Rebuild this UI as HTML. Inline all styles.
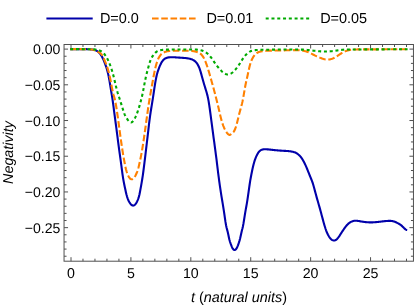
<!DOCTYPE html>
<html><head><meta charset="utf-8"><title>Negativity</title>
<style>
html,body{margin:0;padding:0;background:#fff;}
body{width:415px;height:307px;overflow:hidden;font-family:"Liberation Sans",sans-serif;}
svg{display:block;will-change:transform;}
text{font-family:"Liberation Sans",sans-serif;font-size:14px;fill:#000;text-rendering:geometricPrecision;}
</style></head><body>
<svg width="415" height="307" viewBox="0 0 415 307">
<rect width="415" height="307" fill="#fff"/>
<!-- legend -->
<g fill="none" stroke-width="2">
<path d="M46.4,18.5 H92.7" stroke="#0000aa"/>
<path d="M152,18.5 H195.7" stroke="#ff8000" stroke-dasharray="6.6 2.65"/>
<path d="M265.7,18.5 H309.5" stroke="#00aa00" stroke-dasharray="3 2.78"/>
</g>
<text x="99.9" y="23.0" style="font-size:14.45px">D=0.0</text>
<text x="206.4" y="23.0" style="font-size:14.45px">D=0.01</text>
<text x="320.2" y="23.0" style="font-size:14.45px">D=0.05</text>
<!-- curves -->
<g fill="none" stroke-width="2.1" stroke-linejoin="round">
<path d="M70.20,49.10 L70.76,49.10 L71.33,49.10 L71.89,49.10 L72.45,49.10 L73.01,49.10 L73.58,49.10 L74.14,49.10 L74.70,49.10 L75.26,49.10 L75.83,49.10 L76.39,49.10 L76.95,49.10 L77.51,49.10 L78.08,49.11 L78.64,49.11 L79.20,49.11 L79.76,49.11 L80.33,49.11 L80.89,49.12 L81.45,49.12 L82.01,49.12 L82.58,49.13 L83.14,49.13 L83.70,49.14 L84.27,49.14 L84.83,49.15 L85.39,49.15 L85.95,49.16 L86.52,49.17 L87.08,49.18 L87.64,49.20 L88.20,49.22 L88.77,49.24 L89.33,49.27 L89.89,49.31 L90.45,49.35 L91.02,49.40 L91.58,49.46 L92.14,49.53 L92.70,49.62 L93.27,49.71 L93.83,49.82 L94.39,49.95 L94.95,50.11 L95.52,50.30 L96.08,50.53 L96.64,50.80 L97.21,51.12 L97.77,51.49 L98.33,51.93 L98.89,52.44 L99.46,53.02 L100.02,53.69 L100.58,54.46 L101.14,55.33 L101.71,56.28 L102.27,57.32 L102.83,58.45 L103.39,59.66 L103.96,60.95 L104.52,62.32 L105.08,63.75 L105.64,65.26 L106.21,66.89 L106.77,68.67 L107.33,70.65 L107.89,72.87 L108.46,75.39 L109.02,78.24 L109.58,81.41 L110.14,84.81 L110.71,88.32 L111.27,91.81 L111.83,95.20 L112.40,98.66 L112.96,102.49 L113.52,106.68 L114.08,111.03 L114.65,115.34 L115.21,119.56 L115.77,123.75 L116.33,127.97 L116.90,132.28 L117.46,136.67 L118.02,141.06 L118.58,145.40 L119.15,149.61 L119.71,153.65 L120.27,157.63 L120.83,161.73 L121.40,165.96 L121.96,170.19 L122.52,174.28 L123.08,178.06 L123.65,181.41 L124.21,184.32 L124.77,186.99 L125.34,189.59 L125.90,192.17 L126.46,194.55 L127.02,196.57 L127.59,198.27 L128.15,199.72 L128.71,200.97 L129.27,202.05 L129.84,202.98 L130.40,203.76 L130.96,204.42 L131.52,204.94 L132.09,205.32 L132.65,205.54 L133.21,205.60 L133.77,205.47 L134.34,205.18 L134.90,204.76 L135.46,204.20 L136.02,203.46 L136.59,202.52 L137.15,201.38 L137.71,200.07 L138.28,198.61 L138.84,196.88 L139.40,194.70 L139.96,191.96 L140.53,188.91 L141.09,185.83 L141.65,182.68 L142.21,179.29 L142.78,175.55 L143.34,171.51 L143.90,167.22 L144.46,162.74 L145.03,158.13 L145.59,153.45 L146.15,148.73 L146.71,144.00 L147.28,139.24 L147.84,134.42 L148.40,129.55 L148.96,124.73 L149.53,120.11 L150.09,115.85 L150.65,112.00 L151.22,108.46 L151.78,105.05 L152.34,101.63 L152.90,98.04 L153.47,94.29 L154.03,90.51 L154.59,86.82 L155.15,83.34 L155.72,80.13 L156.28,77.27 L156.84,74.79 L157.40,72.70 L157.97,70.91 L158.53,69.32 L159.09,67.85 L159.65,66.45 L160.22,65.15 L160.78,63.94 L161.34,62.85 L161.90,61.87 L162.47,61.02 L163.03,60.28 L163.59,59.67 L164.15,59.17 L164.72,58.76 L165.28,58.43 L165.84,58.17 L166.41,57.95 L166.97,57.76 L167.53,57.62 L168.09,57.50 L168.66,57.41 L169.22,57.34 L169.78,57.29 L170.34,57.25 L170.91,57.22 L171.47,57.21 L172.03,57.21 L172.59,57.22 L173.16,57.23 L173.72,57.26 L174.28,57.29 L174.84,57.32 L175.41,57.35 L175.97,57.39 L176.53,57.43 L177.09,57.47 L177.66,57.50 L178.22,57.54 L178.78,57.58 L179.35,57.62 L179.91,57.66 L180.47,57.69 L181.03,57.73 L181.60,57.77 L182.16,57.81 L182.72,57.85 L183.28,57.89 L183.85,57.93 L184.41,57.97 L184.97,58.02 L185.53,58.07 L186.10,58.12 L186.66,58.19 L187.22,58.26 L187.78,58.34 L188.35,58.43 L188.91,58.54 L189.47,58.66 L190.03,58.80 L190.60,58.95 L191.16,59.14 L191.72,59.34 L192.29,59.58 L192.85,59.84 L193.41,60.15 L193.97,60.49 L194.54,60.88 L195.10,61.33 L195.66,61.86 L196.22,62.46 L196.79,63.16 L197.35,63.97 L197.91,64.90 L198.47,65.97 L199.04,67.22 L199.60,68.65 L200.16,70.29 L200.72,72.13 L201.29,74.11 L201.85,76.17 L202.41,78.25 L202.97,80.29 L203.54,82.27 L204.10,84.19 L204.66,86.07 L205.23,87.90 L205.79,89.70 L206.35,91.51 L206.91,93.45 L207.48,95.63 L208.04,98.16 L208.60,101.17 L209.16,104.64 L209.73,108.48 L210.29,112.58 L210.85,116.83 L211.41,121.13 L211.98,125.42 L212.54,129.69 L213.10,133.91 L213.66,138.10 L214.23,142.23 L214.79,146.36 L215.35,150.53 L215.91,154.80 L216.48,159.22 L217.04,163.80 L217.60,168.46 L218.16,173.06 L218.73,177.48 L219.29,181.67 L219.85,185.63 L220.42,189.41 L220.98,193.05 L221.54,196.57 L222.10,200.02 L222.67,203.43 L223.23,206.89 L223.79,210.44 L224.35,214.18 L224.92,218.11 L225.48,221.93 L226.04,225.22 L226.60,227.75 L227.17,229.86 L227.73,232.01 L228.29,234.54 L228.85,237.26 L229.42,239.77 L229.98,241.77 L230.54,243.39 L231.10,244.88 L231.67,246.34 L232.23,247.66 L232.79,248.67 L233.36,249.36 L233.92,249.80 L234.48,249.99 L235.04,249.92 L235.61,249.58 L236.17,249.00 L236.73,248.13 L237.29,246.94 L237.86,245.52 L238.42,244.01 L238.98,242.43 L239.54,240.63 L240.11,238.47 L240.67,236.00 L241.23,233.46 L241.79,231.09 L242.36,228.84 L242.92,226.40 L243.48,223.44 L244.04,219.98 L244.61,216.35 L245.17,212.87 L245.73,209.64 L246.30,206.51 L246.86,203.31 L247.42,199.87 L247.98,196.09 L248.55,192.11 L249.11,188.10 L249.67,184.24 L250.23,180.71 L250.80,177.50 L251.36,174.53 L251.92,171.71 L252.48,169.03 L253.05,166.53 L253.61,164.25 L254.17,162.22 L254.73,160.42 L255.30,158.83 L255.86,157.40 L256.42,156.11 L256.98,154.94 L257.55,153.90 L258.11,152.98 L258.67,152.19 L259.24,151.51 L259.80,150.94 L260.36,150.48 L260.92,150.12 L261.49,149.84 L262.05,149.64 L262.61,149.49 L263.17,149.39 L263.74,149.32 L264.30,149.27 L264.86,149.25 L265.42,149.25 L265.99,149.26 L266.55,149.29 L267.11,149.33 L267.67,149.37 L268.24,149.42 L268.80,149.47 L269.36,149.53 L269.92,149.59 L270.49,149.65 L271.05,149.71 L271.61,149.78 L272.17,149.84 L272.74,149.91 L273.30,149.97 L273.86,150.03 L274.43,150.09 L274.99,150.15 L275.55,150.21 L276.11,150.26 L276.68,150.32 L277.24,150.37 L277.80,150.42 L278.36,150.46 L278.93,150.51 L279.49,150.55 L280.05,150.59 L280.61,150.63 L281.18,150.67 L281.74,150.71 L282.30,150.74 L282.86,150.77 L283.43,150.80 L283.99,150.83 L284.55,150.86 L285.11,150.89 L285.68,150.92 L286.24,150.95 L286.80,150.99 L287.37,151.03 L287.93,151.07 L288.49,151.12 L289.05,151.18 L289.62,151.25 L290.18,151.33 L290.74,151.41 L291.30,151.50 L291.87,151.61 L292.43,151.72 L292.99,151.84 L293.55,151.98 L294.12,152.14 L294.68,152.32 L295.24,152.54 L295.80,152.80 L296.37,153.10 L296.93,153.45 L297.49,153.84 L298.05,154.27 L298.62,154.73 L299.18,155.23 L299.74,155.77 L300.31,156.37 L300.87,157.03 L301.43,157.76 L301.99,158.58 L302.56,159.48 L303.12,160.45 L303.68,161.49 L304.24,162.58 L304.81,163.73 L305.37,164.93 L305.93,166.17 L306.49,167.45 L307.06,168.77 L307.62,170.13 L308.18,171.53 L308.74,172.93 L309.31,174.34 L309.87,175.74 L310.43,177.12 L310.99,178.48 L311.56,179.87 L312.12,181.34 L312.68,182.94 L313.25,184.73 L313.81,186.68 L314.37,188.74 L314.93,190.86 L315.50,192.99 L316.06,195.08 L316.62,197.11 L317.18,199.09 L317.75,201.04 L318.31,202.98 L318.87,204.92 L319.43,206.88 L320.00,208.89 L320.56,210.94 L321.12,213.04 L321.68,215.16 L322.25,217.28 L322.81,219.39 L323.37,221.47 L323.93,223.48 L324.50,225.43 L325.06,227.27 L325.62,228.99 L326.18,230.56 L326.75,231.99 L327.31,233.29 L327.87,234.47 L328.44,235.53 L329.00,236.50 L329.56,237.37 L330.12,238.13 L330.69,238.79 L331.25,239.34 L331.81,239.78 L332.37,240.11 L332.94,240.34 L333.50,240.47 L334.06,240.51 L334.62,240.45 L335.19,240.30 L335.75,240.04 L336.31,239.67 L336.87,239.18 L337.44,238.60 L338.00,237.92 L338.56,237.17 L339.12,236.38 L339.69,235.54 L340.25,234.67 L340.81,233.79 L341.38,232.91 L341.94,232.03 L342.50,231.17 L343.06,230.32 L343.63,229.49 L344.19,228.68 L344.75,227.89 L345.31,227.12 L345.88,226.39 L346.44,225.69 L347.00,225.04 L347.56,224.43 L348.13,223.89 L348.69,223.40 L349.25,222.96 L349.81,222.57 L350.38,222.21 L350.94,221.90 L351.50,221.62 L352.06,221.39 L352.63,221.19 L353.19,221.03 L353.75,220.90 L354.32,220.82 L354.88,220.77 L355.44,220.74 L356.00,220.75 L356.57,220.77 L357.13,220.82 L357.69,220.89 L358.25,220.96 L358.82,221.05 L359.38,221.15 L359.94,221.25 L360.50,221.35 L361.07,221.46 L361.63,221.56 L362.19,221.65 L362.75,221.74 L363.32,221.83 L363.88,221.90 L364.44,221.98 L365.00,222.04 L365.57,222.11 L366.13,222.16 L366.69,222.21 L367.26,222.25 L367.82,222.29 L368.38,222.32 L368.94,222.34 L369.51,222.36 L370.07,222.37 L370.63,222.38 L371.19,222.37 L371.76,222.37 L372.32,222.35 L372.88,222.33 L373.44,222.31 L374.01,222.28 L374.57,222.25 L375.13,222.21 L375.69,222.16 L376.26,222.11 L376.82,222.06 L377.38,222.00 L377.94,221.94 L378.51,221.88 L379.07,221.81 L379.63,221.74 L380.19,221.68 L380.76,221.61 L381.32,221.54 L381.88,221.47 L382.45,221.41 L383.01,221.34 L383.57,221.28 L384.13,221.22 L384.70,221.16 L385.26,221.11 L385.82,221.06 L386.38,221.01 L386.95,220.97 L387.51,220.94 L388.07,220.91 L388.63,220.89 L389.20,220.88 L389.76,220.87 L390.32,220.89 L390.88,220.92 L391.45,220.96 L392.01,221.04 L392.57,221.13 L393.13,221.26 L393.70,221.41 L394.26,221.60 L394.82,221.81 L395.39,222.04 L395.95,222.29 L396.51,222.56 L397.07,222.83 L397.64,223.12 L398.20,223.41 L398.76,223.71 L399.32,224.03 L399.89,224.38 L400.45,224.75 L401.01,225.16 L401.57,225.62 L402.14,226.13 L402.70,226.68 L403.26,227.26 L403.82,227.84 L404.39,228.40 L404.95,228.91 L405.51,229.35 L406.07,229.70 L406.64,229.92 L407.20,230.00" stroke="#0000aa"/>
<path d="M70.20,49.10 L70.76,49.10 L71.33,49.10 L71.89,49.10 L72.45,49.10 L73.02,49.10 L73.58,49.10 L74.14,49.10 L74.71,49.11 L75.27,49.11 L75.83,49.11 L76.40,49.11 L76.96,49.11 L77.52,49.12 L78.09,49.12 L78.65,49.12 L79.21,49.13 L79.78,49.13 L80.34,49.14 L80.90,49.14 L81.47,49.15 L82.03,49.15 L82.59,49.16 L83.16,49.17 L83.72,49.18 L84.28,49.18 L84.85,49.19 L85.41,49.20 L85.97,49.21 L86.53,49.22 L87.10,49.23 L87.66,49.24 L88.22,49.25 L88.79,49.27 L89.35,49.29 L89.91,49.32 L90.48,49.36 L91.04,49.41 L91.60,49.49 L92.17,49.59 L92.73,49.71 L93.29,49.86 L93.86,50.05 L94.42,50.27 L94.98,50.52 L95.55,50.79 L96.11,51.08 L96.67,51.36 L97.24,51.64 L97.80,51.91 L98.36,52.15 L98.93,52.39 L99.49,52.66 L100.05,53.00 L100.62,53.43 L101.18,54.00 L101.74,54.72 L102.31,55.58 L102.87,56.56 L103.43,57.67 L104.00,58.87 L104.56,60.17 L105.12,61.54 L105.69,62.98 L106.25,64.47 L106.81,66.01 L107.38,67.66 L107.94,69.43 L108.50,71.37 L109.07,73.51 L109.63,75.89 L110.19,78.53 L110.76,81.42 L111.32,84.41 L111.88,87.37 L112.45,90.16 L113.01,92.64 L113.57,94.74 L114.14,96.68 L114.70,98.75 L115.26,101.21 L115.83,104.16 L116.39,107.53 L116.95,111.21 L117.51,115.10 L118.08,119.14 L118.64,123.25 L119.20,127.42 L119.77,131.58 L120.33,135.72 L120.89,139.79 L121.46,143.74 L122.02,147.54 L122.58,151.16 L123.15,154.58 L123.71,157.83 L124.27,160.96 L124.84,163.95 L125.40,166.72 L125.96,169.18 L126.53,171.28 L127.09,173.05 L127.65,174.53 L128.22,175.77 L128.78,176.81 L129.34,177.68 L129.91,178.36 L130.47,178.86 L131.03,179.18 L131.60,179.30 L132.16,179.22 L132.72,178.96 L133.29,178.53 L133.85,177.95 L134.41,177.22 L134.98,176.38 L135.54,175.41 L136.10,174.31 L136.67,173.04 L137.23,171.57 L137.79,169.88 L138.36,167.94 L138.92,165.74 L139.48,163.32 L140.05,160.73 L140.61,158.01 L141.17,155.13 L141.74,152.08 L142.30,148.82 L142.86,145.35 L143.43,141.69 L143.99,137.87 L144.55,133.94 L145.12,129.92 L145.68,125.85 L146.24,121.75 L146.81,117.67 L147.37,113.63 L147.93,109.68 L148.49,105.84 L149.06,102.15 L149.62,98.65 L150.18,95.34 L150.75,92.15 L151.31,89.01 L151.87,85.86 L152.44,82.70 L153.00,79.57 L153.56,76.52 L154.13,73.60 L154.69,70.86 L155.25,68.32 L155.82,66.02 L156.38,63.98 L156.94,62.20 L157.51,60.64 L158.07,59.27 L158.63,58.06 L159.20,57.01 L159.76,56.09 L160.32,55.30 L160.89,54.62 L161.45,54.04 L162.01,53.55 L162.58,53.14 L163.14,52.79 L163.70,52.49 L164.27,52.24 L164.83,52.01 L165.39,51.81 L165.96,51.63 L166.52,51.47 L167.08,51.33 L167.65,51.21 L168.21,51.11 L168.77,51.02 L169.34,50.94 L169.90,50.88 L170.46,50.83 L171.03,50.79 L171.59,50.77 L172.15,50.75 L172.72,50.74 L173.28,50.73 L173.84,50.73 L174.41,50.74 L174.97,50.75 L175.53,50.76 L176.10,50.77 L176.66,50.78 L177.22,50.79 L177.78,50.80 L178.35,50.81 L178.91,50.81 L179.47,50.82 L180.04,50.82 L180.60,50.82 L181.16,50.82 L181.73,50.81 L182.29,50.81 L182.85,50.81 L183.42,50.80 L183.98,50.80 L184.54,50.80 L185.11,50.79 L185.67,50.79 L186.23,50.79 L186.80,50.79 L187.36,50.80 L187.92,50.80 L188.49,50.81 L189.05,50.82 L189.61,50.84 L190.18,50.86 L190.74,50.89 L191.30,50.93 L191.87,50.98 L192.43,51.04 L192.99,51.11 L193.56,51.19 L194.12,51.29 L194.68,51.39 L195.25,51.52 L195.81,51.66 L196.37,51.82 L196.94,51.99 L197.50,52.19 L198.06,52.40 L198.63,52.64 L199.19,52.92 L199.75,53.24 L200.32,53.63 L200.88,54.08 L201.44,54.62 L202.01,55.26 L202.57,56.00 L203.13,56.84 L203.70,57.80 L204.26,58.87 L204.82,60.07 L205.39,61.39 L205.95,62.82 L206.51,64.36 L207.08,65.99 L207.64,67.72 L208.20,69.53 L208.76,71.40 L209.33,73.32 L209.89,75.27 L210.45,77.24 L211.02,79.22 L211.58,81.20 L212.14,83.20 L212.71,85.21 L213.27,87.26 L213.83,89.34 L214.40,91.46 L214.96,93.60 L215.52,95.78 L216.09,97.97 L216.65,100.19 L217.21,102.42 L217.78,104.71 L218.34,107.06 L218.90,109.49 L219.47,111.99 L220.03,114.46 L220.59,116.80 L221.16,118.98 L221.72,121.00 L222.28,122.85 L222.85,124.54 L223.41,126.09 L223.97,127.48 L224.54,128.73 L225.10,129.84 L225.66,130.84 L226.23,131.74 L226.79,132.55 L227.35,133.29 L227.92,133.94 L228.48,134.45 L229.04,134.78 L229.61,134.90 L230.17,134.78 L230.73,134.45 L231.30,134.01 L231.86,133.51 L232.42,133.03 L232.99,132.56 L233.55,131.97 L234.11,131.18 L234.68,130.09 L235.24,128.73 L235.80,127.11 L236.37,125.27 L236.93,123.24 L237.49,121.05 L238.06,118.75 L238.62,116.42 L239.18,114.11 L239.74,111.91 L240.31,109.85 L240.87,107.86 L241.43,105.83 L242.00,103.64 L242.56,101.16 L243.12,98.32 L243.69,95.17 L244.25,91.88 L244.81,88.61 L245.38,85.52 L245.94,82.72 L246.50,80.14 L247.07,77.67 L247.63,75.16 L248.19,72.55 L248.76,69.93 L249.32,67.44 L249.88,65.21 L250.45,63.29 L251.01,61.65 L251.57,60.24 L252.14,59.00 L252.70,57.90 L253.26,56.93 L253.83,56.08 L254.39,55.32 L254.95,54.66 L255.52,54.08 L256.08,53.57 L256.64,53.14 L257.21,52.77 L257.77,52.46 L258.33,52.20 L258.90,51.98 L259.46,51.79 L260.02,51.64 L260.59,51.50 L261.15,51.39 L261.71,51.28 L262.28,51.19 L262.84,51.11 L263.40,51.04 L263.97,50.98 L264.53,50.93 L265.09,50.88 L265.66,50.85 L266.22,50.81 L266.78,50.78 L267.35,50.75 L267.91,50.73 L268.47,50.70 L269.04,50.68 L269.60,50.67 L270.16,50.65 L270.72,50.64 L271.29,50.62 L271.85,50.61 L272.41,50.60 L272.98,50.59 L273.54,50.59 L274.10,50.58 L274.67,50.57 L275.23,50.56 L275.79,50.56 L276.36,50.55 L276.92,50.54 L277.48,50.54 L278.05,50.53 L278.61,50.52 L279.17,50.50 L279.74,50.49 L280.30,50.48 L280.86,50.46 L281.43,50.45 L281.99,50.43 L282.55,50.41 L283.12,50.39 L283.68,50.37 L284.24,50.35 L284.81,50.33 L285.37,50.31 L285.93,50.29 L286.50,50.27 L287.06,50.25 L287.62,50.23 L288.19,50.21 L288.75,50.20 L289.31,50.18 L289.88,50.16 L290.44,50.15 L291.00,50.14 L291.57,50.13 L292.13,50.12 L292.69,50.11 L293.26,50.10 L293.82,50.10 L294.38,50.10 L294.95,50.10 L295.51,50.11 L296.07,50.11 L296.64,50.13 L297.20,50.15 L297.76,50.17 L298.33,50.20 L298.89,50.23 L299.45,50.27 L300.02,50.32 L300.58,50.38 L301.14,50.44 L301.70,50.51 L302.27,50.59 L302.83,50.69 L303.39,50.79 L303.96,50.90 L304.52,51.02 L305.08,51.16 L305.65,51.31 L306.21,51.47 L306.77,51.65 L307.34,51.84 L307.90,52.04 L308.46,52.26 L309.03,52.50 L309.59,52.75 L310.15,53.01 L310.72,53.29 L311.28,53.57 L311.84,53.86 L312.41,54.16 L312.97,54.45 L313.53,54.75 L314.10,55.04 L314.66,55.33 L315.22,55.61 L315.79,55.89 L316.35,56.16 L316.91,56.42 L317.48,56.67 L318.04,56.92 L318.60,57.17 L319.17,57.40 L319.73,57.63 L320.29,57.86 L320.86,58.08 L321.42,58.29 L321.98,58.49 L322.55,58.68 L323.11,58.86 L323.67,59.02 L324.24,59.17 L324.80,59.30 L325.36,59.41 L325.93,59.49 L326.49,59.56 L327.05,59.59 L327.62,59.60 L328.18,59.58 L328.74,59.54 L329.31,59.47 L329.87,59.37 L330.43,59.24 L330.99,59.10 L331.56,58.92 L332.12,58.73 L332.68,58.51 L333.25,58.27 L333.81,58.01 L334.37,57.72 L334.94,57.42 L335.50,57.11 L336.06,56.78 L336.63,56.44 L337.19,56.08 L337.75,55.72 L338.32,55.35 L338.88,54.98 L339.44,54.61 L340.01,54.23 L340.57,53.86 L341.13,53.50 L341.70,53.14 L342.26,52.80 L342.82,52.47 L343.39,52.16 L343.95,51.87 L344.51,51.60 L345.08,51.35 L345.64,51.11 L346.20,50.90 L346.77,50.71 L347.33,50.53 L347.89,50.38 L348.46,50.24 L349.02,50.11 L349.58,50.01 L350.15,49.91 L350.71,49.83 L351.27,49.76 L351.84,49.70 L352.40,49.65 L352.96,49.60 L353.53,49.56 L354.09,49.53 L354.65,49.50 L355.22,49.48 L355.78,49.46 L356.34,49.45 L356.91,49.43 L357.47,49.42 L358.03,49.42 L358.60,49.41 L359.16,49.41 L359.72,49.40 L360.29,49.40 L360.85,49.39 L361.41,49.39 L361.97,49.39 L362.54,49.39 L363.10,49.38 L363.66,49.38 L364.23,49.38 L364.79,49.37 L365.35,49.37 L365.92,49.37 L366.48,49.37 L367.04,49.36 L367.61,49.36 L368.17,49.36 L368.73,49.36 L369.30,49.35 L369.86,49.35 L370.42,49.35 L370.99,49.35 L371.55,49.34 L372.11,49.34 L372.68,49.34 L373.24,49.34 L373.80,49.34 L374.37,49.34 L374.93,49.33 L375.49,49.33 L376.06,49.33 L376.62,49.33 L377.18,49.33 L377.75,49.33 L378.31,49.32 L378.87,49.32 L379.44,49.32 L380.00,49.32 L380.56,49.32 L381.13,49.32 L381.69,49.32 L382.25,49.32 L382.82,49.31 L383.38,49.31 L383.94,49.31 L384.51,49.31 L385.07,49.31 L385.63,49.31 L386.20,49.31 L386.76,49.31 L387.32,49.31 L387.89,49.31 L388.45,49.31 L389.01,49.31 L389.58,49.31 L390.14,49.31 L390.70,49.31 L391.27,49.30 L391.83,49.30 L392.39,49.30 L392.95,49.30 L393.52,49.30 L394.08,49.30 L394.64,49.30 L395.21,49.30 L395.77,49.30 L396.33,49.30 L396.90,49.30 L397.46,49.30 L398.02,49.30 L398.59,49.30 L399.15,49.30 L399.71,49.30 L400.28,49.30 L400.84,49.30 L401.40,49.30 L401.97,49.30 L402.53,49.30 L403.09,49.30 L403.66,49.30 L404.22,49.30 L404.78,49.30 L405.35,49.30 L405.91,49.30 L406.47,49.30 L407.04,49.30 L407.60,49.30" stroke="#ff8000" stroke-dasharray="6.6 2.65"/>
<path d="M70.20,49.10 L70.76,49.10 L71.33,49.10 L71.89,49.10 L72.45,49.10 L73.02,49.10 L73.58,49.11 L74.14,49.11 L74.71,49.11 L75.27,49.11 L75.83,49.12 L76.40,49.12 L76.96,49.12 L77.52,49.13 L78.09,49.13 L78.65,49.13 L79.21,49.14 L79.78,49.14 L80.34,49.15 L80.90,49.15 L81.47,49.16 L82.03,49.16 L82.59,49.17 L83.16,49.17 L83.72,49.18 L84.28,49.19 L84.85,49.19 L85.41,49.20 L85.97,49.20 L86.53,49.21 L87.10,49.22 L87.66,49.22 L88.22,49.23 L88.79,49.24 L89.35,49.24 L89.91,49.25 L90.48,49.26 L91.04,49.26 L91.60,49.27 L92.17,49.29 L92.73,49.31 L93.29,49.33 L93.86,49.37 L94.42,49.41 L94.98,49.47 L95.55,49.53 L96.11,49.61 L96.67,49.71 L97.24,49.82 L97.80,49.95 L98.36,50.10 L98.93,50.27 L99.49,50.47 L100.05,50.71 L100.62,50.98 L101.18,51.29 L101.74,51.66 L102.31,52.07 L102.87,52.53 L103.43,53.06 L104.00,53.65 L104.56,54.30 L105.12,55.03 L105.69,55.84 L106.25,56.72 L106.81,57.68 L107.38,58.73 L107.94,59.86 L108.50,61.07 L109.07,62.37 L109.63,63.77 L110.19,65.25 L110.76,66.83 L111.32,68.50 L111.88,70.28 L112.45,72.17 L113.01,74.18 L113.57,76.30 L114.14,78.55 L114.70,80.91 L115.26,83.31 L115.83,85.71 L116.39,88.04 L116.95,90.26 L117.51,92.31 L118.08,94.14 L118.64,95.84 L119.20,97.51 L119.77,99.24 L120.33,101.02 L120.89,102.83 L121.46,104.67 L122.02,106.50 L122.58,108.31 L123.15,110.09 L123.71,111.79 L124.27,113.37 L124.84,114.82 L125.40,116.08 L125.96,117.17 L126.53,118.13 L127.09,118.97 L127.65,119.74 L128.22,120.45 L128.78,121.09 L129.34,121.63 L129.91,122.05 L130.47,122.33 L131.03,122.44 L131.60,122.34 L132.16,122.05 L132.72,121.56 L133.29,120.90 L133.85,120.09 L134.41,119.14 L134.98,118.06 L135.54,116.89 L136.10,115.62 L136.67,114.25 L137.23,112.78 L137.79,111.21 L138.36,109.52 L138.92,107.73 L139.48,105.85 L140.05,103.88 L140.61,101.84 L141.17,99.72 L141.74,97.47 L142.30,95.01 L142.86,92.29 L143.43,89.38 L143.99,86.40 L144.55,83.43 L145.12,80.56 L145.68,77.85 L146.24,75.38 L146.81,73.10 L147.37,70.95 L147.93,68.85 L148.49,66.76 L149.06,64.70 L149.62,62.78 L150.18,61.06 L150.75,59.60 L151.31,58.37 L151.87,57.32 L152.44,56.42 L153.00,55.60 L153.56,54.84 L154.13,54.13 L154.69,53.47 L155.25,52.87 L155.82,52.34 L156.38,51.86 L156.94,51.46 L157.51,51.13 L158.07,50.85 L158.63,50.62 L159.20,50.44 L159.76,50.30 L160.32,50.19 L160.89,50.10 L161.45,50.03 L162.01,49.97 L162.58,49.91 L163.14,49.86 L163.70,49.82 L164.27,49.78 L164.83,49.75 L165.39,49.72 L165.96,49.69 L166.52,49.67 L167.08,49.65 L167.65,49.63 L168.21,49.62 L168.77,49.60 L169.34,49.59 L169.90,49.58 L170.46,49.57 L171.03,49.56 L171.59,49.55 L172.15,49.55 L172.72,49.54 L173.28,49.53 L173.84,49.53 L174.41,49.53 L174.97,49.52 L175.53,49.52 L176.10,49.52 L176.66,49.51 L177.22,49.51 L177.78,49.51 L178.35,49.51 L178.91,49.51 L179.47,49.51 L180.04,49.51 L180.60,49.51 L181.16,49.51 L181.73,49.50 L182.29,49.50 L182.85,49.50 L183.42,49.50 L183.98,49.50 L184.54,49.50 L185.11,49.49 L185.67,49.49 L186.23,49.49 L186.80,49.49 L187.36,49.48 L187.92,49.48 L188.49,49.48 L189.05,49.48 L189.61,49.48 L190.18,49.48 L190.74,49.48 L191.30,49.49 L191.87,49.49 L192.43,49.49 L192.99,49.50 L193.56,49.51 L194.12,49.52 L194.68,49.53 L195.25,49.55 L195.81,49.57 L196.37,49.61 L196.94,49.64 L197.50,49.69 L198.06,49.75 L198.63,49.82 L199.19,49.91 L199.75,50.00 L200.32,50.11 L200.88,50.24 L201.44,50.39 L202.01,50.55 L202.57,50.74 L203.13,50.95 L203.70,51.19 L204.26,51.45 L204.82,51.75 L205.39,52.07 L205.95,52.44 L206.51,52.83 L207.08,53.27 L207.64,53.75 L208.20,54.27 L208.76,54.82 L209.33,55.42 L209.89,56.06 L210.45,56.74 L211.02,57.47 L211.58,58.23 L212.14,59.01 L212.71,59.82 L213.27,60.64 L213.83,61.46 L214.40,62.28 L214.96,63.08 L215.52,63.87 L216.09,64.64 L216.65,65.38 L217.21,66.10 L217.78,66.80 L218.34,67.48 L218.90,68.14 L219.47,68.79 L220.03,69.42 L220.59,70.04 L221.16,70.63 L221.72,71.19 L222.28,71.72 L222.85,72.21 L223.41,72.66 L223.97,73.07 L224.54,73.43 L225.10,73.75 L225.66,74.00 L226.23,74.21 L226.79,74.35 L227.35,74.43 L227.92,74.45 L228.48,74.40 L229.04,74.30 L229.61,74.14 L230.17,73.92 L230.73,73.65 L231.30,73.32 L231.86,72.95 L232.42,72.53 L232.99,72.07 L233.55,71.56 L234.11,71.01 L234.68,70.42 L235.24,69.80 L235.80,69.14 L236.37,68.45 L236.93,67.73 L237.49,66.98 L238.06,66.20 L238.62,65.39 L239.18,64.54 L239.74,63.67 L240.31,62.77 L240.87,61.86 L241.43,60.95 L242.00,60.04 L242.56,59.16 L243.12,58.31 L243.69,57.51 L244.25,56.75 L244.81,56.04 L245.38,55.38 L245.94,54.76 L246.50,54.19 L247.07,53.65 L247.63,53.16 L248.19,52.71 L248.76,52.30 L249.32,51.93 L249.88,51.61 L250.45,51.32 L251.01,51.08 L251.57,50.87 L252.14,50.70 L252.70,50.56 L253.26,50.44 L253.83,50.34 L254.39,50.25 L254.95,50.18 L255.52,50.12 L256.08,50.06 L256.64,50.02 L257.21,49.98 L257.77,49.94 L258.33,49.91 L258.90,49.89 L259.46,49.86 L260.02,49.85 L260.59,49.83 L261.15,49.82 L261.71,49.81 L262.28,49.79 L262.84,49.78 L263.40,49.77 L263.97,49.76 L264.53,49.75 L265.09,49.74 L265.66,49.73 L266.22,49.72 L266.78,49.71 L267.35,49.70 L267.91,49.69 L268.47,49.69 L269.04,49.68 L269.60,49.67 L270.16,49.66 L270.72,49.65 L271.29,49.65 L271.85,49.64 L272.41,49.63 L272.98,49.62 L273.54,49.62 L274.10,49.61 L274.67,49.60 L275.23,49.60 L275.79,49.59 L276.36,49.58 L276.92,49.58 L277.48,49.57 L278.05,49.57 L278.61,49.56 L279.17,49.56 L279.74,49.55 L280.30,49.55 L280.86,49.54 L281.43,49.54 L281.99,49.53 L282.55,49.53 L283.12,49.53 L283.68,49.52 L284.24,49.52 L284.81,49.51 L285.37,49.51 L285.93,49.51 L286.50,49.51 L287.06,49.50 L287.62,49.50 L288.19,49.50 L288.75,49.50 L289.31,49.50 L289.88,49.50 L290.44,49.50 L291.00,49.50 L291.57,49.49 L292.13,49.49 L292.69,49.50 L293.26,49.50 L293.82,49.50 L294.38,49.50 L294.95,49.50 L295.51,49.50 L296.07,49.50 L296.64,49.51 L297.20,49.51 L297.76,49.51 L298.33,49.52 L298.89,49.53 L299.45,49.54 L300.02,49.55 L300.58,49.56 L301.14,49.58 L301.70,49.60 L302.27,49.62 L302.83,49.64 L303.39,49.67 L303.96,49.70 L304.52,49.73 L305.08,49.77 L305.65,49.81 L306.21,49.85 L306.77,49.90 L307.34,49.95 L307.90,50.01 L308.46,50.06 L309.03,50.12 L309.59,50.19 L310.15,50.25 L310.72,50.32 L311.28,50.39 L311.84,50.46 L312.41,50.53 L312.97,50.60 L313.53,50.67 L314.10,50.74 L314.66,50.81 L315.22,50.87 L315.79,50.94 L316.35,51.00 L316.91,51.06 L317.48,51.12 L318.04,51.18 L318.60,51.23 L319.17,51.27 L319.73,51.32 L320.29,51.35 L320.86,51.39 L321.42,51.42 L321.98,51.44 L322.55,51.46 L323.11,51.48 L323.67,51.49 L324.24,51.50 L324.80,51.50 L325.36,51.50 L325.93,51.50 L326.49,51.49 L327.05,51.48 L327.62,51.46 L328.18,51.44 L328.74,51.41 L329.31,51.38 L329.87,51.34 L330.43,51.30 L330.99,51.25 L331.56,51.20 L332.12,51.15 L332.68,51.08 L333.25,51.02 L333.81,50.95 L334.37,50.88 L334.94,50.80 L335.50,50.72 L336.06,50.64 L336.63,50.56 L337.19,50.48 L337.75,50.39 L338.32,50.31 L338.88,50.23 L339.44,50.15 L340.01,50.08 L340.57,50.00 L341.13,49.94 L341.70,49.87 L342.26,49.81 L342.82,49.76 L343.39,49.71 L343.95,49.67 L344.51,49.63 L345.08,49.60 L345.64,49.58 L346.20,49.56 L346.77,49.54 L347.33,49.53 L347.89,49.52 L348.46,49.51 L349.02,49.51 L349.58,49.50 L350.15,49.50 L350.71,49.49 L351.27,49.49 L351.84,49.49 L352.40,49.48 L352.96,49.48 L353.53,49.48 L354.09,49.47 L354.65,49.47 L355.22,49.46 L355.78,49.46 L356.34,49.46 L356.91,49.45 L357.47,49.45 L358.03,49.45 L358.60,49.44 L359.16,49.44 L359.72,49.44 L360.29,49.43 L360.85,49.43 L361.41,49.43 L361.97,49.42 L362.54,49.42 L363.10,49.42 L363.66,49.41 L364.23,49.41 L364.79,49.41 L365.35,49.41 L365.92,49.40 L366.48,49.40 L367.04,49.40 L367.61,49.39 L368.17,49.39 L368.73,49.39 L369.30,49.39 L369.86,49.38 L370.42,49.38 L370.99,49.38 L371.55,49.38 L372.11,49.37 L372.68,49.37 L373.24,49.37 L373.80,49.37 L374.37,49.36 L374.93,49.36 L375.49,49.36 L376.06,49.36 L376.62,49.36 L377.18,49.35 L377.75,49.35 L378.31,49.35 L378.87,49.35 L379.44,49.35 L380.00,49.34 L380.56,49.34 L381.13,49.34 L381.69,49.34 L382.25,49.34 L382.82,49.34 L383.38,49.33 L383.94,49.33 L384.51,49.33 L385.07,49.33 L385.63,49.33 L386.20,49.33 L386.76,49.32 L387.32,49.32 L387.89,49.32 L388.45,49.32 L389.01,49.32 L389.58,49.32 L390.14,49.32 L390.70,49.32 L391.27,49.32 L391.83,49.31 L392.39,49.31 L392.95,49.31 L393.52,49.31 L394.08,49.31 L394.64,49.31 L395.21,49.31 L395.77,49.31 L396.33,49.31 L396.90,49.31 L397.46,49.31 L398.02,49.31 L398.59,49.30 L399.15,49.30 L399.71,49.30 L400.28,49.30 L400.84,49.30 L401.40,49.30 L401.97,49.30 L402.53,49.30 L403.09,49.30 L403.66,49.30 L404.22,49.30 L404.78,49.30 L405.35,49.30 L405.91,49.30 L406.47,49.30 L407.04,49.30 L407.60,49.30" stroke="#00aa00" stroke-dasharray="3 2.78"/>
</g>
<!-- frame -->
<rect x="64.05" y="44.5" width="349.4" height="216.7" fill="none" stroke="#505050" stroke-width="1"/>
<path d="M71.00,261.2 v-4.0 M71.00,44.5 v4.0 M82.98,261.2 v-2.5 M82.98,44.5 v2.5 M94.96,261.2 v-2.5 M94.96,44.5 v2.5 M106.95,261.2 v-2.5 M106.95,44.5 v2.5 M118.93,261.2 v-2.5 M118.93,44.5 v2.5 M130.91,261.2 v-4.0 M130.91,44.5 v4.0 M142.89,261.2 v-2.5 M142.89,44.5 v2.5 M154.87,261.2 v-2.5 M154.87,44.5 v2.5 M166.86,261.2 v-2.5 M166.86,44.5 v2.5 M178.84,261.2 v-2.5 M178.84,44.5 v2.5 M190.82,261.2 v-4.0 M190.82,44.5 v4.0 M202.80,261.2 v-2.5 M202.80,44.5 v2.5 M214.78,261.2 v-2.5 M214.78,44.5 v2.5 M226.77,261.2 v-2.5 M226.77,44.5 v2.5 M238.75,261.2 v-2.5 M238.75,44.5 v2.5 M250.73,261.2 v-4.0 M250.73,44.5 v4.0 M262.71,261.2 v-2.5 M262.71,44.5 v2.5 M274.69,261.2 v-2.5 M274.69,44.5 v2.5 M286.68,261.2 v-2.5 M286.68,44.5 v2.5 M298.66,261.2 v-2.5 M298.66,44.5 v2.5 M310.64,261.2 v-4.0 M310.64,44.5 v4.0 M322.62,261.2 v-2.5 M322.62,44.5 v2.5 M334.60,261.2 v-2.5 M334.60,44.5 v2.5 M346.59,261.2 v-2.5 M346.59,44.5 v2.5 M358.57,261.2 v-2.5 M358.57,44.5 v2.5 M370.55,261.2 v-4.0 M370.55,44.5 v4.0 M382.53,261.2 v-2.5 M382.53,44.5 v2.5 M394.51,261.2 v-2.5 M394.51,44.5 v2.5 M406.50,261.2 v-2.5 M406.50,44.5 v2.5 M64.05,49.10 h4.0 M413.45,49.10 h-4.0 M64.05,56.24 h2.5 M413.45,56.24 h-2.5 M64.05,63.38 h2.5 M413.45,63.38 h-2.5 M64.05,70.53 h2.5 M413.45,70.53 h-2.5 M64.05,77.67 h2.5 M413.45,77.67 h-2.5 M64.05,84.81 h4.0 M413.45,84.81 h-4.0 M64.05,91.95 h2.5 M413.45,91.95 h-2.5 M64.05,99.09 h2.5 M413.45,99.09 h-2.5 M64.05,106.24 h2.5 M413.45,106.24 h-2.5 M64.05,113.38 h2.5 M413.45,113.38 h-2.5 M64.05,120.52 h4.0 M413.45,120.52 h-4.0 M64.05,127.66 h2.5 M413.45,127.66 h-2.5 M64.05,134.80 h2.5 M413.45,134.80 h-2.5 M64.05,141.95 h2.5 M413.45,141.95 h-2.5 M64.05,149.09 h2.5 M413.45,149.09 h-2.5 M64.05,156.23 h4.0 M413.45,156.23 h-4.0 M64.05,163.37 h2.5 M413.45,163.37 h-2.5 M64.05,170.51 h2.5 M413.45,170.51 h-2.5 M64.05,177.66 h2.5 M413.45,177.66 h-2.5 M64.05,184.80 h2.5 M413.45,184.80 h-2.5 M64.05,191.94 h4.0 M413.45,191.94 h-4.0 M64.05,199.08 h2.5 M413.45,199.08 h-2.5 M64.05,206.22 h2.5 M413.45,206.22 h-2.5 M64.05,213.37 h2.5 M413.45,213.37 h-2.5 M64.05,220.51 h2.5 M413.45,220.51 h-2.5 M64.05,227.65 h4.0 M413.45,227.65 h-4.0 M64.05,234.79 h2.5 M413.45,234.79 h-2.5 M64.05,241.93 h2.5 M413.45,241.93 h-2.5 M64.05,249.08 h2.5 M413.45,249.08 h-2.5 M64.05,256.22 h2.5 M413.45,256.22 h-2.5" fill="none" stroke="#505050" stroke-width="1"/>
<!-- labels -->
<text x="60.4" y="54.25" text-anchor="end" style="font-size:14.1px">0.00</text><text x="60.4" y="89.96" text-anchor="end" style="font-size:14.1px">−0.05</text><text x="60.4" y="125.67" text-anchor="end" style="font-size:14.1px">−0.10</text><text x="60.4" y="161.38" text-anchor="end" style="font-size:14.1px">−0.15</text><text x="60.4" y="197.09" text-anchor="end" style="font-size:14.1px">−0.20</text><text x="60.4" y="232.80" text-anchor="end" style="font-size:14.1px">−0.25</text>
<text x="71.00" y="277.5" text-anchor="middle" style="font-size:14.2px">0</text><text x="130.91" y="277.5" text-anchor="middle" style="font-size:14.2px">5</text><text x="190.82" y="277.5" text-anchor="middle" style="font-size:14.2px">10</text><text x="250.73" y="277.5" text-anchor="middle" style="font-size:14.2px">15</text><text x="310.64" y="277.5" text-anchor="middle" style="font-size:14.2px">20</text><text x="370.55" y="277.5" text-anchor="middle" style="font-size:14.2px">25</text>
<text x="239" y="302.2" text-anchor="middle" style="font-size:14.4px"><tspan font-style="italic">t </tspan>(<tspan font-style="italic">natural units</tspan>)</text>
<text transform="translate(13.2,152.5) rotate(-90)" text-anchor="middle" font-style="italic" style="font-size:14.3px">Negativity</text>
</svg>
</body></html>
